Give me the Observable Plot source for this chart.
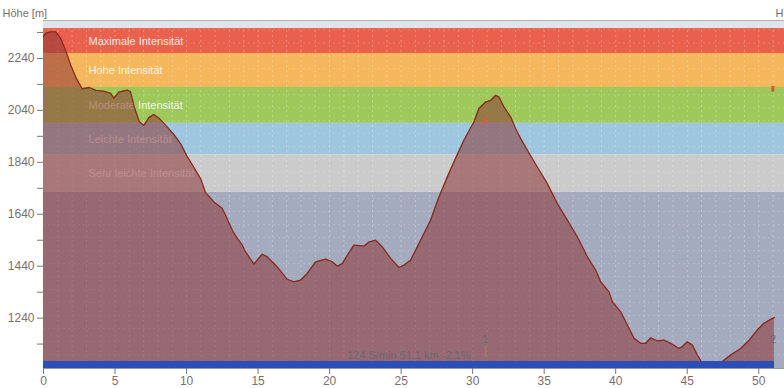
<!DOCTYPE html>
<html>
<head>
<meta charset="utf-8">
<script src="https://cdn.jsdelivr.net/npm/d3@7"></script>
<script src="https://cdn.jsdelivr.net/npm/@observablehq/plot@0.6"></script>
<style>
  html, body { margin: 0; padding: 0; background: #fff; overflow: hidden; }
</style>
</head>
<body>
<div id="chart"></div>
<script>
// Elevation profile: distance (km) and altitude (m)
const distKm = [0,0.2,0.5,0.85,1.2,1.55,1.9,2.25,2.7,3.2,3.65,4.2,4.7,4.92,5.27,5.85,6.08,6.35,6.7,7.02,7.37,7.7,8.07,8.5,9.1,9.6,10.05,10.5,11.0,11.33,11.9,12.5,12.73,13.2,13.55,13.9,14.05,14.36,14.71,15.29,15.64,16.34,17.04,17.5,17.97,18.44,19.02,19.72,20.19,20.54,20.89,21.24,21.7,22.4,22.75,23.22,23.69,24.27,24.85,25.2,25.66,26.13,26.6,27.06,27.6,28.2,28.69,29.39,30.09,30.44,30.91,31.26,31.61,31.84,32.19,32.66,33.0,33.36,33.83,34.52,35.22,35.92,36.62,37.32,38.02,38.6,38.95,39.53,39.77,40.35,40.82,41.28,41.75,42.1,42.45,42.92,43.38,43.85,44.43,44.66,45.0,45.36,45.71,46.06,46.5,47.0,47.34,48.04,48.74,49.33,49.9,50.37,50.96,51.1];
const elevM = [2325,2338,2342,2342,2318,2270,2215,2168,2123,2128,2117,2114,2105,2087,2110,2118,2112,2052,1996,1982,2012,2024,2010,1985,1948,1910,1862,1822,1775,1723,1688,1662,1636,1578,1547,1521,1502,1476,1448,1486,1476,1437,1389,1380,1386,1412,1457,1467,1457,1440,1450,1482,1521,1517,1533,1540,1514,1470,1435,1444,1463,1514,1566,1617,1700,1780,1841,1925,1995,2047,2072,2078,2098,2091,2053,2014,1970,1931,1886,1822,1758,1681,1617,1553,1476,1425,1380,1341,1303,1264,1213,1162,1143,1143,1164,1152,1155,1143,1123,1130,1149,1136,1098,1065,1055,1055,1068,1098,1123,1155,1194,1220,1239,1242];

// Intensity bands (m on the elevation axis)
const bandNames = ["", "Maximale Intensität", "Hohe Intensität", "Moderate Intensität", "Leichte Intensität", "Sehr leichte Intensität", ""];
const bandLow   = [2355, 2259, 2128, 1990, 1868, 1725, 1046];
const bandHigh  = [2386, 2355, 2259, 2128, 1990, 1868, 1725];
const bandColors = ["#dfe4ea", "#e9604d", "#f5b75b", "#9ec95a", "#9ec6de", "#cbcbcb", "#a5abbf"];

// Axis ticks
const xTicks = [0, 5, 10, 15, 20, 25, 30, 35, 40, 45, 50];
const yTicks = [1140, 1240, 1340, 1440, 1540, 1640, 1740, 1840, 1940, 2040, 2140, 2240, 2340];
const yLabelled = [1240, 1440, 1640, 1840, 2040, 2240];

// Summary annotation and markers
const summaryText = ["124 S/min 51.1 km -2.1%"];
const summaryPos = [{km: 29.85, m: 1096}];
const markerLabels = [{km: 30.9, m: 1156, t: "1"}, {km: 51.0, m: 1159, t: "2"}];
const markerTicks = [{km: 30.9, m1: 1090, m2: 1128, c: "#d2695c"}];
const peakMarkers = [{km1: 30.78, km2: 30.98, m1: 1988, m2: 2010, c: "#e8533f"}, {km1: 50.92, km2: 51.12, m1: 2110, m2: 2132, c: "#d9532e"}];
const rideEnd = 51.1;
const xMax = 51.8;
const yMin = 1046, yMax = 2386;

const profile = distKm.map((d, i) => ({km: d, m: elevM[i]}));
const bands = bandNames.map((n, i) => ({name: n, lo: bandLow[i], hi: bandHigh[i], color: bandColors[i], mid: (bandLow[i] + bandHigh[i]) / 2}));

const chart = Plot.plot({
  width: 784,
  height: 388,
  marginLeft: 43,
  marginRight: 0,
  marginTop: 20,
  marginBottom: 20,
  style: {fontFamily: "'Liberation Sans', Arial, sans-serif", fontSize: "12px", color: "#7d6e6e", background: "#fff"},
  x: {domain: [0, xMax]},
  y: {domain: [yMin, yMax]},
  marks: [
    Plot.rect(bands, {x1: 0, x2: xMax, y1: "lo", y2: "hi", fill: "color"}),
    Plot.ruleX(d3.range(1, 52, 1), {stroke: "#ffffff", strokeOpacity: 0.3, strokeDasharray: "2,3"}),
    Plot.ruleY(d3.range(1100, 2386, 50), {stroke: "#ffffff", strokeOpacity: 0.18, strokeDasharray: "2,3"}),
    Plot.text(bands.filter(b => b.name), {x: 3.15, y: "mid", text: "name", textAnchor: "start", fill: "#ffffff", fillOpacity: 0.85, fontSize: 11}),
    Plot.areaY(profile, {x: "km", y1: yMin, y2: "m", fill: "rgb(140,52,52)", fillOpacity: 0.55}),
    Plot.line(profile, {x: "km", y: "m", stroke: "#8a2a1c", strokeWidth: 1.3}),
    Plot.rect([{a: 0, b: rideEnd}], {x1: "a", x2: "b", y1: yMin, y2: 1073, fill: "#2b4fb6"}),
    Plot.rect(peakMarkers, {x1: "km1", x2: "km2", y1: "m1", y2: "m2", fill: "c"}),
    Plot.ruleX(markerTicks, {x: "km", y1: "m1", y2: "m2", stroke: "c", strokeWidth: 1}),
    Plot.text(summaryText, {x: () => summaryPos[0].km, y: () => summaryPos[0].m, text: d => d, textAnchor: "end", fill: "#6f6670", fontSize: 11}),
    Plot.text(markerLabels, {x: "km", y: "m", text: "t", fill: "#6f6670", fontSize: 11}),
    Plot.frame({stroke: "#b0b0b0", strokeWidth: 1, anchor: "top"}),
    Plot.ruleY([yMin], {stroke: "#999"}),
    Plot.axisX({ticks: xTicks, tickSize: 6, tickPadding: 2, label: null, stroke: "#777", fill: "#7d6e6e"}),
    Plot.axisY({ticks: yTicks, tickSize: 6, tickPadding: 3, label: null, stroke: "#777", fill: "#7d6e6e", tickFormat: d => yLabelled.includes(d) ? String(d) : ""}),
    Plot.text(["Höhe [m]"], {frameAnchor: "top-left", dx: -41, dy: -11, textAnchor: "start", fill: "#7d6e6e", fontSize: 11}),
    Plot.text(["H"], {frameAnchor: "top-right", dx: -1, dy: -11, textAnchor: "end", fill: "#7d6e6e", fontSize: 11})
  ]
});
document.getElementById("chart").appendChild(chart);
</script>
</body>
</html>
